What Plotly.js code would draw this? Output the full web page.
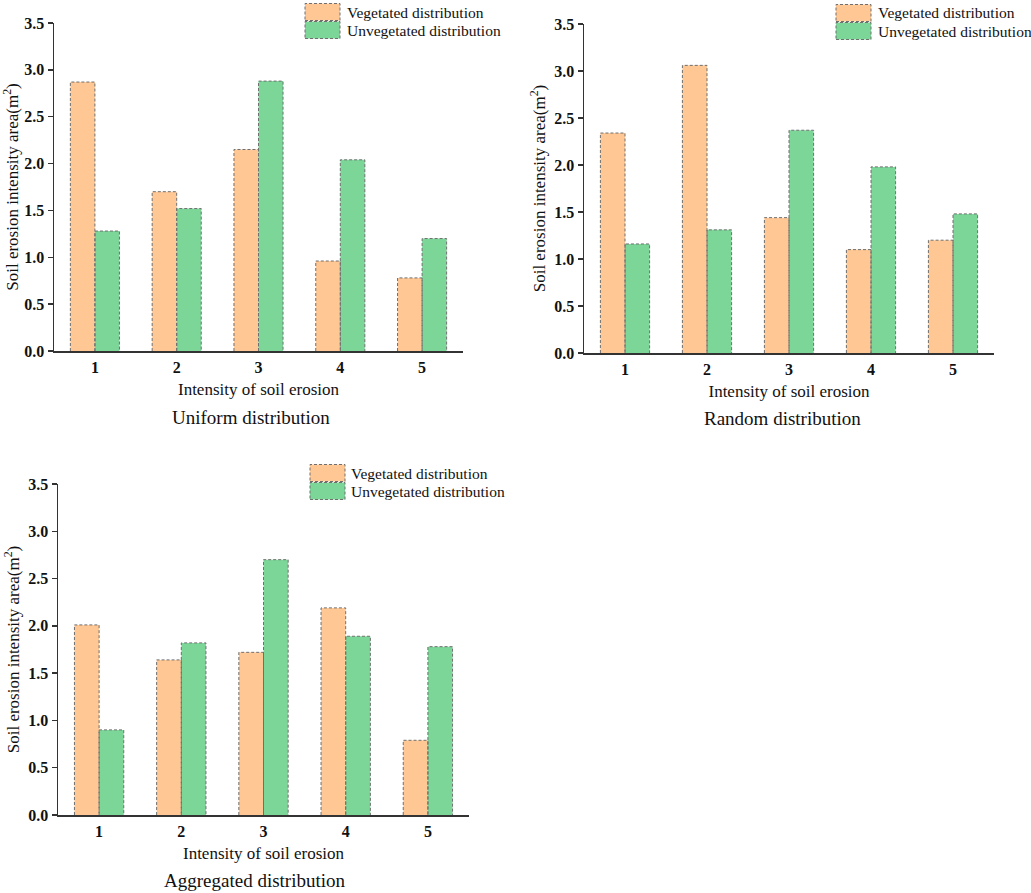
<!DOCTYPE html>
<html>
<head>
<meta charset="utf-8">
<script src="https://cdn.plot.ly/plotly-3.0.1.min.js"></script>
<style>html,body{margin:0;padding:0;background:#fff;}</style>
</head>
<body>
<div id="chart" style="width:1031px;height:893px;"></div>
<script>
// ---- data ----
var categories = [1, 2, 3, 4, 5];
var tickLabels = ["1", "2", "3", "4", "5"];
var seriesNames = ["Vegetated distribution", "Unvegetated distribution"];
var panelTitles = ["Uniform distribution", "Random distribution", "Aggregated distribution"];

var uniformVegetated = [2.87, 1.70, 2.15, 0.96, 0.78];
var uniformUnvegetated = [1.28, 1.52, 2.88, 2.04, 1.20];
var randomVegetated = [2.34, 3.06, 1.44, 1.10, 1.20];
var randomUnvegetated = [1.16, 1.31, 2.37, 1.98, 1.48];
var aggregatedVegetated = [2.01, 1.64, 1.72, 2.19, 0.79];
var aggregatedUnvegetated = [0.90, 1.82, 2.70, 1.89, 1.78];

var xTitle = "Intensity of soil erosion";
var yTitle = "Soil erosion intensity area(m<sup>2</sup>)";

// ---- styling ----
var W = 1031, H = 893;
var FONT = "Liberation Serif, Times New Roman, serif";
var ORANGE = "#FEC794";
var GREEN = "#7BD698";
var EDGE = "#6f6f6f";
var BARW = 0.3;

function px(x) { return x / W; }
function py(y) { return 1 - y / H; }

var panels = [
  { veg: uniformVegetated, unveg: uniformUnvegetated, xa: "x", ya: "y",
    box: [54, 463, 23, 351], legend: [305, 340, 3, 21, 39, 345], title: [251, 417] },
  { veg: randomVegetated, unveg: randomUnvegetated, xa: "x2", ya: "y2",
    box: [584, 994, 24, 353], legend: [836, 871, 4, 22, 40, 876], title: [782, 419] },
  { veg: aggregatedVegetated, unveg: aggregatedUnvegetated, xa: "x3", ya: "y3",
    box: [58, 469, 484, 815], legend: [310, 345, 464, 482, 500, 349], title: [254, 880] }
];

function outline(vals, offset) {
  var xs = [], ys = [];
  for (var i = 0; i < categories.length; i++) {
    var x0 = categories[i] + offset, x1 = x0 + BARW;
    xs.push(x0, x0, x1, x1, null);
    ys.push(0, vals[i], vals[i], 0, null);
  }
  return { xs: xs, ys: ys };
}

var traces = [];
var layout = {
  width: W, height: H,
  margin: { l: 0, r: 0, t: 0, b: 0 },
  paper_bgcolor: "#fff", plot_bgcolor: "#fff",
  font: { family: FONT, color: "#111" },
  showlegend: false,
  barmode: "overlay",
  shapes: [], annotations: []
};

panels.forEach(function (p, k) {
  var sfx = k === 0 ? "" : String(k + 1);
  [[p.veg, -BARW, ORANGE, seriesNames[0]], [p.unveg, 0, GREEN, seriesNames[1]]].forEach(function (s) {
    traces.push({
      type: "bar", x: categories, y: s[0], name: s[3],
      width: BARW, offset: s[1],
      marker: { color: s[2], line: { width: 0 } },
      xaxis: p.xa, yaxis: p.ya, hoverinfo: "x+y+name"
    });
    var o = outline(s[0], s[1]);
    traces.push({
      type: "scatter", mode: "lines", x: o.xs, y: o.ys,
      line: { color: EDGE, width: 1, dash: "3px,2px" },
      xaxis: p.xa, yaxis: p.ya, hoverinfo: "skip"
    });
  });

  layout["xaxis" + sfx] = {
    domain: [px(p.box[0]), px(p.box[1])],
    anchor: p.ya, range: [0.5, 5.5],
    tickvals: categories, ticktext: tickLabels,
    ticks: "", ticklabelstandoff: 1,
    showline: true, linecolor: "#333", linewidth: 1.5,
    showgrid: false, zeroline: false, fixedrange: true,
    tickfont: { family: FONT, size: 16, color: "#111", weight: "bold" },
    title: { text: xTitle, font: { family: FONT, size: 17, color: "#111" }, standoff: 8 }
  };
  layout["yaxis" + sfx] = {
    domain: [py(p.box[3]), py(p.box[2])],
    anchor: p.xa, range: [0, 3.5], dtick: 0.5, tick0: 0, tickformat: ".1f",
    ticks: "outside", ticklen: 5, tickwidth: 1.3, tickcolor: "#333",
    showline: true, linecolor: "#333", linewidth: 1.5,
    showgrid: false, zeroline: false, fixedrange: true,
    tickfont: { family: FONT, size: 16, color: "#111", weight: "bold" },
    title: { text: yTitle, font: { family: FONT, size: 17, color: "#111" }, standoff: 4 }
  };

  // legend swatches and labels
  var L = p.legend;
  [[ORANGE, L[2], L[3], seriesNames[0]], [GREEN, L[3], L[4], seriesNames[1]]].forEach(function (e) {
    layout.shapes.push({
      type: "rect", xref: "paper", yref: "paper",
      x0: px(L[0]), x1: px(L[1]), y0: py(e[2] - 0.5), y1: py(e[1] + 0.5),
      fillcolor: e[0], line: { color: EDGE, width: 1, dash: "3px,2px" }
    });
    layout.annotations.push({
      xref: "paper", yref: "paper", x: px(L[5]), y: py((e[1] + e[2]) / 2),
      xanchor: "left", yanchor: "middle", showarrow: false, text: e[3],
      font: { family: FONT, size: 15.5, color: "#111" }
    });
  });

  layout.annotations.push({
    xref: "paper", yref: "paper", x: px(p.title[0]), y: py(p.title[1]),
    xanchor: "center", yanchor: "middle", showarrow: false, text: panelTitles[k],
    font: { family: FONT, size: 19, color: "#111" }
  });
});

Plotly.newPlot("chart", traces, layout, { displayModeBar: false, staticPlot: true });
</script>
</body>
</html>
